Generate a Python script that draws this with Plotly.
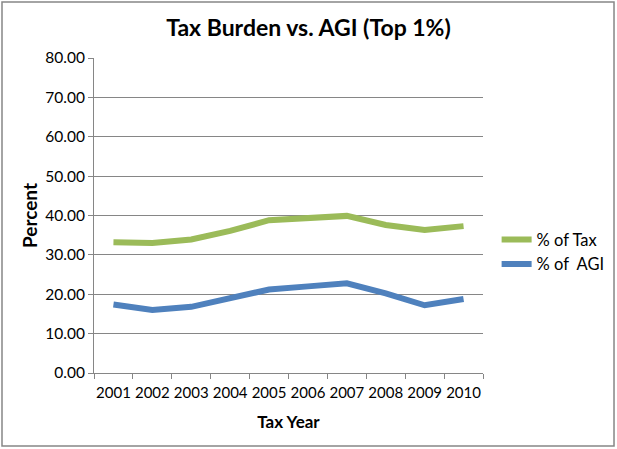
import plotly.graph_objects as go

years = ["2001", "2002", "2003", "2004", "2005", "2006", "2007", "2008", "2009", "2010"]
pct_tax = [33.2, 33.0, 33.9, 36.1, 38.8, 39.4, 39.9, 37.6, 36.3, 37.3]
pct_agi = [17.4, 16.0, 16.8, 19.0, 21.2, 22.0, 22.8, 20.2, 17.2, 18.8]
y_ticks = [0, 10, 20, 30, 40, 50, 60, 70, 80]

FONT = "Lato, 'Open Sans', Arial, sans-serif"

fig = go.Figure()
fig.add_trace(go.Scatter(x=years, y=pct_tax, mode="lines", name="% of Tax",
                         line=dict(color="#9BBB59", width=6)))
fig.add_trace(go.Scatter(x=years, y=pct_agi, mode="lines", name="% of\u00a0\u00a0AGI",
                         line=dict(color="#4F81BD", width=6)))

fig.update_layout(
    width=617, height=449,
    margin=dict(l=94, r=134, t=58, b=76, autoexpand=False),
    paper_bgcolor="white", plot_bgcolor="white",
    font=dict(family=FONT, size=15, color="#000000"),
    title=dict(text="<b>Tax Burden vs. AGI (Top 1%)</b>", x=0.5, xanchor="center",
               y=0.937, yanchor="middle", xref="container", yref="container",
               font=dict(size=23, family=FONT)),
    showlegend=True,
    legend=dict(x=1.035, y=0.385, xanchor="left", yanchor="middle",
                font=dict(size=16.5, family=FONT), bgcolor="rgba(0,0,0,0)",
                tracegroupgap=0, itemwidth=30),
    xaxis=dict(
        title=dict(text="<b>Tax Year</b>", font=dict(size=17), standoff=16),
        type="category", showgrid=False, showline=True, linecolor="#868686",
        ticks="outside", tickson="boundaries", ticklen=5, tickcolor="#868686",
        tickfont=dict(size=15), tickangle=0, range=[-0.5, 9.5], automargin=False,
        ticklabelstandoff=6,
    ),
    yaxis=dict(
        title=dict(text="<b>Percent</b>", font=dict(size=19), standoff=2),
        range=[0, 80], tickvals=y_ticks, tickformat=".2f",
        showgrid=True, gridcolor="#868686", gridwidth=1,
        showline=True, linecolor="#868686", ticks="outside", ticklen=5,
        tickcolor="#868686", tickfont=dict(size=15.5), zeroline=False, automargin=False,
    ),
    shapes=[dict(type="rect", xref="paper", yref="paper",
                 x0=-0.2365, x1=1.3368, y0=-0.2317, y1=1.178,
                 line=dict(color="#868686", width=1.5))],
)

fig.write_html("out.html", post_script="document.body.style.margin='0';",
               config={"displayModeBar": False})
